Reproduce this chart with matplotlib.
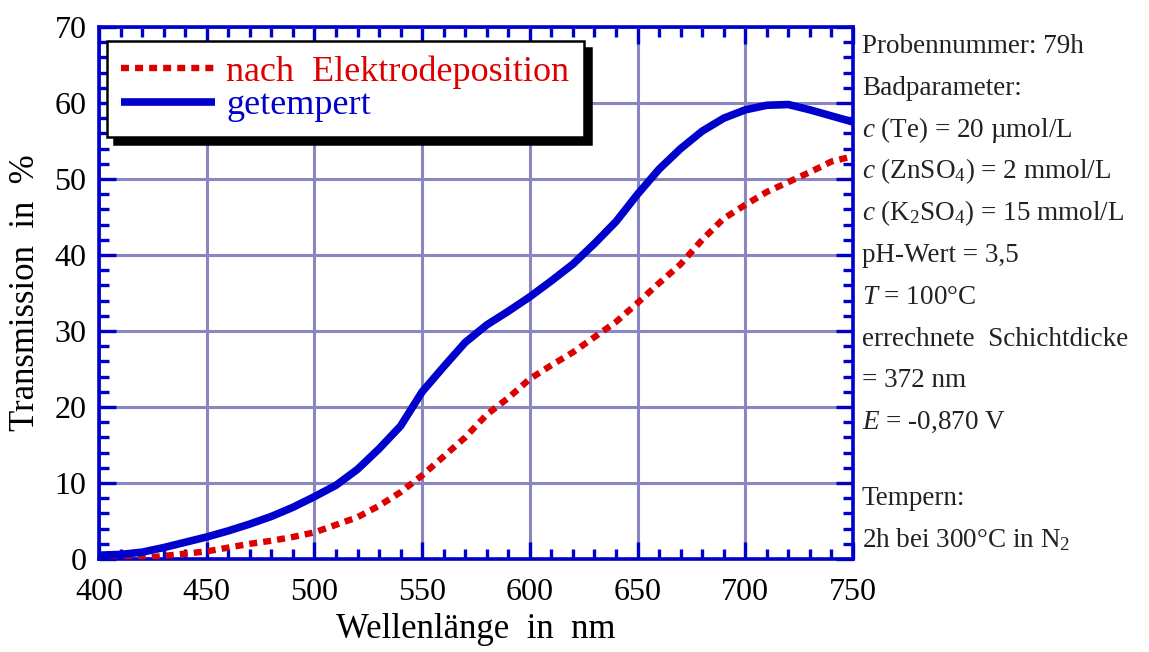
import matplotlib
matplotlib.use("Agg")
import matplotlib.pyplot as plt
from matplotlib.ticker import MultipleLocator

# ---- data ----
wl_blue = [400, 410, 420, 430, 440, 450, 460, 470, 480, 490, 500, 510, 520, 530, 540,
           550, 560, 570, 580, 590, 600, 610, 620, 630, 640, 650, 660, 670, 680, 690,
           700, 710, 720, 730, 740, 750]
t_getempert = [0.5, 0.6, 0.9, 1.5, 2.2, 2.9, 3.7, 4.6, 5.6, 6.8, 8.2, 9.7, 11.8, 14.5, 17.5,
               22.0, 25.3, 28.5, 30.8, 32.6, 34.5, 36.6, 38.8, 41.5, 44.4, 48.0, 51.3, 54.0, 56.3, 58.0,
               59.1, 59.7, 59.8, 59.1, 58.3, 57.5]
wl_red = [405, 415, 420, 430, 440, 450, 460, 470, 480, 490, 500, 510, 520, 530, 540,
          550, 560, 570, 580, 590, 600, 610, 620, 630, 640, 650, 660, 670, 680, 690,
          700, 710, 720, 730, 740, 750]
t_nach = [0.0, 0.0, 0.1, 0.4, 0.7, 1.0, 1.5, 2.0, 2.4, 2.9, 3.5, 4.5, 5.5, 7.0, 8.8,
          11.0, 13.5, 16.0, 19.0, 21.2, 23.7, 25.5, 27.2, 29.2, 31.2, 33.7, 36.3, 38.8, 42.0, 44.8,
          46.6, 48.3, 49.6, 50.9, 52.3, 53.0]
labels = ["nach  Elektrodeposition", "getempert"]
info_lines = [
    "Probennummer: 79h",
    "Badparameter:",
    r"$c$ (Te) = 20 µmol/L",
    r"$c$ (ZnSO$_4$) = 2 mmol/L",
    r"$c$ (K$_2$SO$_4$) = 15 mmol/L",
    "pH-Wert = 3,5",
    r"$T$ = 100°C",
    "errechnete  Schichtdicke",
    "= 372 nm",
    r"$E$ = -0,870 V",
    "",
    "Tempern:",
    r"2h bei 300°C in N$_2$",
]

plt.rcParams['font.family'] = ['Liberation Serif', 'DejaVu Serif']
plt.rcParams['mathtext.fontset'] = 'custom'
plt.rcParams['mathtext.rm'] = 'Liberation Serif'
plt.rcParams['mathtext.it'] = 'Liberation Serif:italic'

BLUE = '#0000cc'
RED = '#dd0000'
GRID = '#8a86c0'

fig = plt.figure(figsize=(11.49, 6.52), dpi=100)
ax = fig.add_axes([99/1149, 1-559/652, (853-99)/1149, (559-27)/652])

ax.plot(wl_red, t_nach, color=RED, lw=4.6, dashes=(1.25, 0.95), dash_capstyle='butt',
        label=labels[0], zorder=3)
ax.plot(wl_blue, t_getempert, color=BLUE, lw=5.5, solid_capstyle='butt',
        label=labels[1], zorder=4)

ax.set_xlim(400, 750)
ax.set_ylim(0, 70)
ax.xaxis.set_major_locator(MultipleLocator(50))
ax.xaxis.set_minor_locator(MultipleLocator(10))
ax.yaxis.set_major_locator(MultipleLocator(10))
ax.yaxis.set_minor_locator(MultipleLocator(2))
ax.grid(True, which='major', color=GRID, lw=2.2, zorder=0)
ax.set_axisbelow(True)
for s in ax.spines.values():
    s.set_color(BLUE)
    s.set_linewidth(2.6)
ax.tick_params(which='both', direction='in', top=True, right=True, color=BLUE,
               labelsize=23, labelcolor='black')
ax.tick_params(which='major', length=12, width=2.4)
ax.tick_params(which='minor', length=7, width=2.4)
ax.tick_params(axis='x', pad=14)
ax.tick_params(axis='y', pad=9)

ax.set_xlabel("Wellenlänge  in  nm", fontsize=25, labelpad=4)
ax.set_ylabel("Transmission  in  %", fontsize=25, labelpad=9)

leg = ax.legend(loc='upper left', bbox_to_anchor=(8/754, 1-14/532), borderaxespad=0,
                fontsize=26, handlelength=2.6, handletextpad=0.3, borderpad=0.4,
                labelspacing=0.0, fancybox=False, framealpha=1, edgecolor='black',
                shadow={'ox': 5, 'oy': -5, 'facecolor': 'black', 'edgecolor': 'black', 'alpha': 1})
leg.get_frame().set_linewidth(1.8)
for t, c in zip(leg.get_texts(), [RED, BLUE]):
    t.set_color(c)

y0 = 53
step = 41.8
for i, line in enumerate(info_lines):
    if not line:
        continue
    y = y0 + step * i
    if i == 11:
        y = 505
    if i == 12:
        y = 547
    fig.text(862/1149, 1 - y/652, line, fontsize=19.5, color='#222222', va='baseline', ha='left')

fig.savefig('out.png', dpi=100)
